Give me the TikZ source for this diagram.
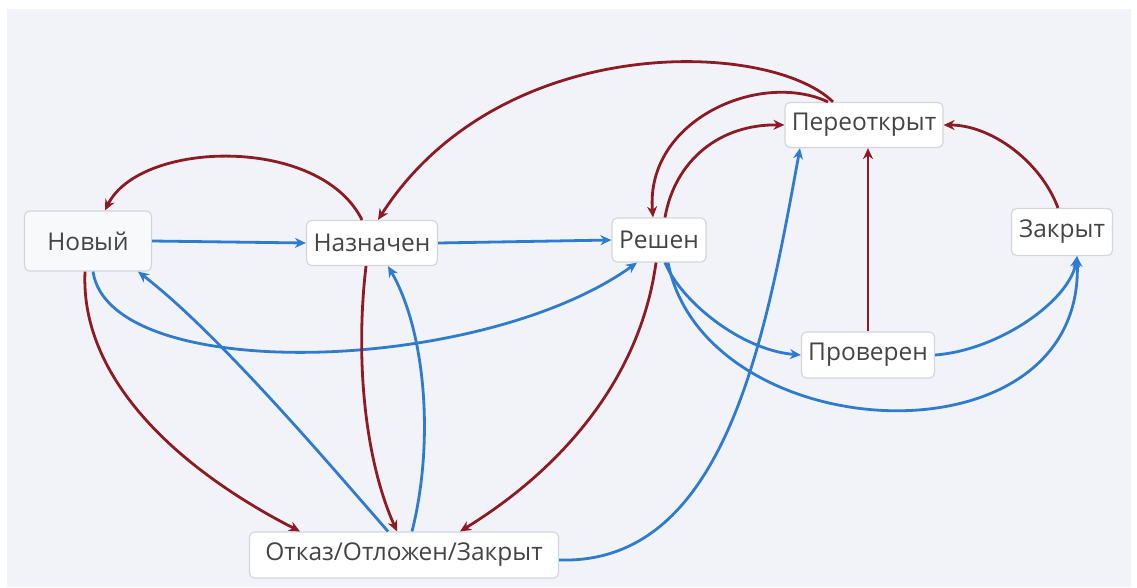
\documentclass[tikz,border=0pt]{standalone}
\usepackage{fontspec}
\setmainfont{Open Sans}
\usetikzlibrary{arrows.meta}
\definecolor{bgc}{HTML}{F1F3F8}
\definecolor{redc}{HTML}{8E1B24}
\definecolor{bluec}{HTML}{2F7BD0}
\definecolor{txtc}{HTML}{454545}
\definecolor{boxc}{HTML}{D3D6DC}
\tikzset{
  state/.style={draw=boxc, line width=1.2pt, fill=white, rounded corners=5pt,
    inner sep=0pt, text=txtc, font=\fontsize{24.5}{28}\selectfont},
  redar/.style={draw=redc, line width=2.8pt, -{Stealth[length=11pt,width=10pt]}},
  bluear/.style={draw=bluec, line width=2.8pt, -{Stealth[length=11pt,width=10pt]}}
}
\begin{document}
\begin{tikzpicture}[x=1pt,y=-1pt]
\useasboundingbox (0,0) rectangle (1137,587);
\fill[white] (0,0) rectangle (1137,587);
\fill[bgc] (7,9) rectangle (1131,587);

\node[state, fill=white!50!bgc, minimum width=127pt, minimum height=60pt] (nov) at (88,241) {Новый};
\node[state, minimum width=131pt, minimum height=45pt] (naz) at (372,243) {Назначен};
\node[state, minimum width=94pt, minimum height=44pt] (res) at (659,240) {Решен};
\node[state, minimum width=158pt, minimum height=45pt] (per) at (864,125) {Переоткрыт};
\node[state, minimum width=101pt, minimum height=47pt] (zak) at (1062,232) {Закрыт};
\node[state, minimum width=133pt, minimum height=46pt] (pro) at (868,355) {Проверен};
\node[state, minimum width=309pt, minimum height=46pt] (otk) at (404,555) {Отказ/Отложен/Закрыт};

% blue connectors
\draw[bluear] (nov.east) -- (naz.west);
\draw[bluear] (naz.east) -- (res.west);
\draw[bluear] ([xshift=5pt]nov.south) .. controls (110,385) and (480,375) .. ([xshift=-22pt]res.south);
\draw[bluear] ([xshift=-16pt]otk.north) .. controls (330,465) and (218,333) .. ([xshift=50pt]nov.south);
\draw[bluear] ([xshift=8pt]otk.north) .. controls (435,440) and (425,330) .. ([xshift=16pt]naz.south);
\draw[bluear] ([yshift=-5pt]otk.east) .. controls (725,565) and (765,340) .. ([xshift=-64pt]per.south);
\draw[bluear] ([xshift=6pt]res.south) .. controls (680,300) and (740,350) .. (pro.west);
\draw[bluear] ([xshift=9pt]res.south) .. controls (705,450) and (1085,470) .. ([xshift=15pt]zak.south);
\draw[bluear] (pro.east) .. controls (1000,350) and (1070,300) .. ([xshift=15pt]zak.south);

% red connectors
\draw[redar] ([xshift=-10pt]naz.north) .. controls (320,135) and (140,140) .. ([xshift=17pt]nov.north);
\draw[redar] ([xshift=-31pt]per.north) .. controls (770,40) and (500,30) .. ([xshift=6pt]naz.north);
\draw[redar] ([xshift=-36pt]per.north) .. controls (760,70) and (645,120) .. ([xshift=-6pt]res.north);
\draw[redar] ([xshift=6pt]res.north) .. controls (675,160) and (720,124) .. (per.west);
\draw[redar] (pro.north) -- (pro.north |- per.south);
\draw[redar] ([xshift=-4pt]zak.north) .. controls (1040,160) and (990,125) .. (per.east);
\draw[redar] ([xshift=-3pt]nov.south) .. controls (80,380) and (180,470) .. ([xshift=-104pt]otk.north);
\draw[redar] ([xshift=-6pt]naz.south) .. controls (355,360) and (365,460) .. ([xshift=-7pt]otk.north);
\draw[redar] ([xshift=-3pt]res.south) .. controls (640,380) and (560,470) .. ([xshift=56pt]otk.north);
\end{tikzpicture}
\end{document}
